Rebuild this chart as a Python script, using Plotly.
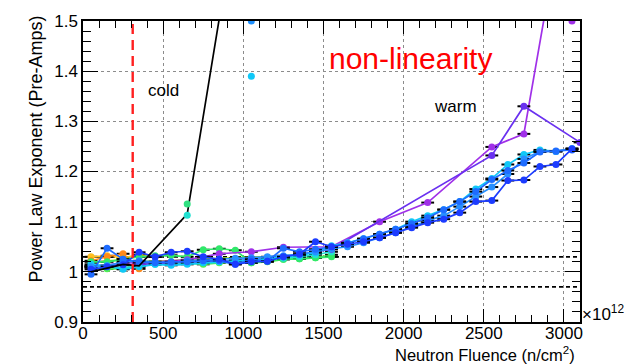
import plotly.graph_objects as go

# Fluence grid (units of 1e12 n/cm^2)
fluence = [50, 150, 250, 350, 450, 550, 650, 750, 850, 950, 1050, 1150, 1250, 1350, 1450,
           1550, 1650, 1750, 1850, 1950, 2050, 2150, 2250, 2350, 2450, 2550, 2650, 2750,
           2850, 2950, 3050]
fluence_low = fluence[:16]

# Power-law exponent per channel
exp_blue_dark = [1.005, 1.010, 1.014, 1.039, 1.030, 1.039, 1.041, 1.030, 1.025, 1.015, 1.020,
                 1.021, 1.030, 1.035, 1.060, 1.050, 1.055, 1.060, 1.068, 1.078, 1.088, 1.098,
                 1.105, 1.118, 1.140, 1.142, 1.182, 1.183, 1.210, 1.214, 1.245]
exp_blue_mid = [0.995, 1.047, 1.025, 1.020, 1.018, 1.020, 1.020, 1.022, 1.022, 1.015, 1.025,
                1.021, 1.047, 1.040, 1.045, 1.050, 1.057, 1.066, 1.075, 1.085, 1.096, 1.108,
                1.124, 1.140, 1.160, 1.184, 1.202, 1.217, 1.239, 1.241, 1.243]
exp_blue_light = [1.010, 1.012, 1.020, 1.022, 1.020, 1.018, 1.022, 1.024, 1.025, 1.027, 1.028,
                  1.030, 1.032, 1.035, 1.040, 1.046, 1.050, 1.058, 1.068, 1.078, 1.090, 1.102,
                  1.112, 1.130, 1.150, 1.169, 1.195, 1.225, 1.240, 1.240, 1.246]
exp_cyan = [1.015, 1.012, 1.005, 1.010, 1.015, 1.013, 1.015, 1.018, 1.020, 1.022, 1.024,
            1.026, 1.030, 1.033, 1.038, 1.052, 1.058, 1.066, 1.075, 1.085, 1.100, 1.112,
            1.124, 1.140, 1.165, 1.186, 1.214, 1.234, 1.243, 1.240, 1.245]
exp_turquoise = [1.012, 1.010, 1.008, 1.012, 1.015, 1.016, 1.018, 1.020, 1.020, 1.022, 1.024,
                 1.025, 1.027, 1.030, 1.034, 1.040]
exp_green = [1.020, 1.020, 1.025, 1.030, 1.032, 1.033, 1.030, 1.044, 1.046, 1.043, 1.018,
             1.022, 1.025, 1.026, 1.028, 1.030]
exp_green2 = [1.008, 1.006, 1.006, 1.015, 1.018, 1.020, 1.018, 1.015, 1.018, 1.020, 1.018,
              1.020, 1.025, 1.026, 1.028, 1.034]
fluence_lime = fluence[:12]
exp_lime = [1.018, 1.022, 1.024, 1.020, 1.022, 1.022, 1.025, 1.026, 1.027, 1.028, 1.030, 1.030]
fluence_orange = [50, 150, 250, 350]
exp_orange = [1.022, 1.030, 1.036, 1.006]
fluence_amber = [50, 150, 250, 350, 450]
exp_amber = [1.030, 1.032, 1.028, 1.034, 1.030]
fluence_purple = [50, 250, 450, 650, 850, 1050, 1250, 1550, 1850, 2150, 2550, 2750, 2950]
exp_purple = [1.010, 1.018, 1.020, 1.024, 1.036, 1.040, 1.049, 1.050, 1.100, 1.138, 1.249,
              1.275, 1.640]
fluence_indigo = [50, 350, 650, 950, 1250, 1550, 2550, 2750, 3100]
exp_indigo = [1.012, 1.015, 1.020, 1.022, 1.030, 1.045, 1.232, 1.330, 1.258]
fluence_black = [50, 250, 350, 650, 950]
exp_black = [1.000, 1.015, 1.012, 1.115, 1.700]

# Isolated measurements
single_fluence = [650, 650, 1050, 1050, 3050]
single_exp = [1.135, 1.113, 1.500, 1.390, 1.500]
single_colors = ["#30e080", "#20e0d0", "#1e90ff", "#10c8f8", "#a030e8"]

fig = go.Figure()

FONT = "Liberation Sans, Arial, Helvetica, sans-serif"
ERR = 40


def add_series(x, y, color, markers=True):
    fig.add_trace(go.Scatter(
        x=x, y=y,
        mode="lines+markers" if markers else "lines",
        line=dict(color=color, width=1.7),
        marker=dict(color=color, size=7),
        error_x=dict(type="constant", value=ERR, color="black", thickness=2, width=0)
        if markers else None,
        showlegend=False, hoverinfo="skip"))


# Reference band and cold/warm boundary
for yv in (1.03, 0.97):
    fig.add_trace(go.Scatter(x=[0, 3100], y=[yv, yv], mode="lines",
                             line=dict(color="black", width=1.8, dash="4px,3px"),
                             showlegend=False, hoverinfo="skip"))

add_series(fluence_lime, exp_lime, "#b0f020", markers=False)
add_series(fluence_amber, exp_amber, "#ffc020")
add_series(fluence_orange, exp_orange, "#ff8a1a")
add_series(fluence_low, exp_green2, "#50f050")
add_series(fluence_low, exp_green, "#30e86a")
add_series(fluence_low, exp_turquoise, "#20e0d0")
add_series(fluence_purple, exp_purple, "#a030e8")
add_series(fluence_indigo, exp_indigo, "#6a30f0")
add_series(fluence, exp_cyan, "#10c8f8")
add_series(fluence, exp_blue_light, "#2890ff")
add_series(fluence, exp_blue_mid, "#1e6cff")
add_series(fluence, exp_blue_dark, "#1c3cff")
add_series(fluence_black, exp_black, "black", markers=False)

fig.add_trace(go.Scatter(x=single_fluence, y=single_exp, mode="markers",
                         marker=dict(color=single_colors, size=7),
                         showlegend=False, hoverinfo="skip"))

fig.add_trace(go.Scatter(x=[310, 310], y=[0.9, 1.5], mode="lines",
                         line=dict(color="#ff2020", width=2.4, dash="10px,6px"),
                         showlegend=False, hoverinfo="skip"))

axis_common = dict(
    showline=True, linecolor="black", linewidth=1.5, mirror="ticks",
    ticks="inside", tickcolor="black", tickwidth=1.2,
    showgrid=True, gridcolor="#8c8c8c", griddash="dot", gridwidth=1,
    zeroline=False, tickfont=dict(family=FONT, size=17, color="black"),
)

fig.update_layout(
    width=636, height=364,
    margin=dict(l=83, r=56, t=15, b=42),
    paper_bgcolor="white", plot_bgcolor="white",
    font=dict(family=FONT, color="black"),
    xaxis=dict(range=[0, 3100], tickvals=[0, 500, 1000, 1500, 2000, 2500, 3000],
               ticklen=13, ticklabelstandoff=-5,
               minor=dict(dtick=100, tick0=0, ticks="inside", ticklen=7,
                          tickcolor="black", showgrid=False),
               **axis_common),
    yaxis=dict(range=[0.9, 1.5], tickvals=[0.9, 1.0, 1.1, 1.2, 1.3, 1.4, 1.5],
               ticktext=["0.9", "1", "1.1", "1.2", "1.3", "1.4", "1.5"],
               ticklen=15, minor=dict(dtick=0.02, tick0=0.9, ticks="inside", ticklen=8,
                                      tickcolor="black", showgrid=False),
               **axis_common),
    annotations=[
        dict(text="non-linearity", x=2040, y=1.425, xref="x", yref="y",
             showarrow=False, font=dict(family=FONT, size=30, color="#ff0000")),
        dict(text="cold", x=501, y=1.361, xref="x", yref="y",
             showarrow=False, font=dict(family=FONT, size=17, color="black")),
        dict(text="warm", x=2323, y=1.33, xref="x", yref="y",
             showarrow=False, font=dict(family=FONT, size=17, color="black")),
        dict(text="Neutron Fluence (n/cm<sup>2</sup>)", x=1, y=0, xref="paper", yref="paper",
             xanchor="right", yanchor="middle", xshift=-3, yshift=-32,
             showarrow=False, font=dict(family=FONT, size=16.5, color="black")),
        dict(text="×10<sup>12</sup>", x=1, y=0, xref="paper", yref="paper",
             xanchor="left", yanchor="bottom", xshift=0, yshift=-4,
             showarrow=False, font=dict(family=FONT, size=17, color="black")),
        dict(text="Power Law Exponent (Pre-Amps)", x=0, y=1, xref="paper", yref="paper",
             textangle=-90, xanchor="center", yanchor="top", xshift=-48, yshift=7,
             showarrow=False, font=dict(family=FONT, size=18, color="black")),
    ],
)

fig.write_html("out.html")
